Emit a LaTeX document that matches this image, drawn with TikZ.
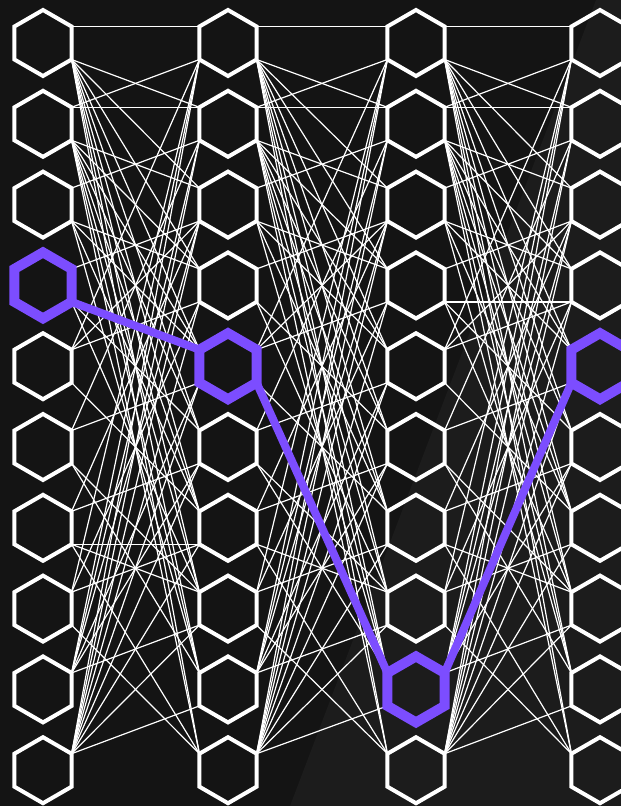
\documentclass[tikz,border=0pt]{standalone}
\usetikzlibrary{shapes.geometric}
\definecolor{bgdark}{HTML}{141414}
\definecolor{bglight}{HTML}{1C1C1C}
\definecolor{pickviolet}{RGB}{124,77,255}
\pgfdeclarelayer{back}
\pgfdeclarelayer{wires}
\pgfsetlayers{back,wires,main}

% pairs left row / right row, same for every layer
\def\wirelist{1/1,1/2,1/3,1/4,1/5,1/6,1/7,1/8,1/9,1/10,
  2/1,2/2,2/3,2/4,2/5,2/6,2/7,2/8,2/9,2/10,
  3/2,3/4,3/5,3/7,3/9,
  4/3,4/6,4/8,
  5/1,5/3,5/4,5/7,
  6/2,6/5,6/8,6/9,
  7/3,7/6,7/8,7/10,
  8/1,8/4,8/7,8/10,
  9/1,9/2,9/3,9/5,9/6,9/8,
  10/1,10/2,10/3,10/4,10/5,10/6,10/7,10/8,10/9}

\begin{document}
\begin{tikzpicture}[x=1pt, y=-1pt,
    cell/.style={regular polygon, regular polygon sides=6, shape border rotate=30,
      minimum size=66pt, inner sep=0pt, outer sep=0pt, draw=white, line width=4pt},
    picked/.style={draw=pickviolet, line width=10pt},
    wire/.style={draw=white, line width=1.2pt},
    route/.style={draw=pickviolet, line width=8pt}
]
    \useasboundingbox (0,0) rectangle (621,806);
    \begin{pgfonlayer}{back}
        \fill[bgdark] (0,0) rectangle (621,806);
        \fill[bglight] (596,0) -- (621,0) -- (621,806) -- (290,806) -- cycle;
    \end{pgfonlayer}

    % columns of cells, one picked per column
    \foreach \c/\x/\p in {1/43/4, 2/228/5, 3/416/9, 4/600/5}
        \foreach \r in {1,...,10} {
            \ifnum\r=\p
                \node[cell, picked] (h\c-\r) at (\x, {43+(\r-1)*80.8}) {};
            \else
                \node[cell] (h\c-\r) at (\x, {43+(\r-1)*80.8}) {};
            \fi
        }

    \begin{pgfonlayer}{wires}
        \foreach \c [evaluate=\c as \d using int(\c+1)] in {1,2,3}
            \foreach \i/\j in \wirelist {
                \pgfmathtruncatemacro\sa{\j>\i ? -30 : 30}
                \pgfmathtruncatemacro\ta{\j<\i ? 210 : 150}
                \draw[wire] (h\c-\i.\sa) -- (h\d-\j.\ta);
            }
        \draw[wire] (h1-7.-30) -- (h2-7.210);
        \draw[wire] (h3-4.-30) -- (h4-4.210);

        % highlighted path
        \draw[route] (h1-4.-30) -- (h2-5.150);
        \draw[route] (h2-5.-30) -- (h3-9.150);
        \draw[route] (h3-9.30) -- (h4-5.210);
    \end{pgfonlayer}
\end{tikzpicture}
\end{document}
